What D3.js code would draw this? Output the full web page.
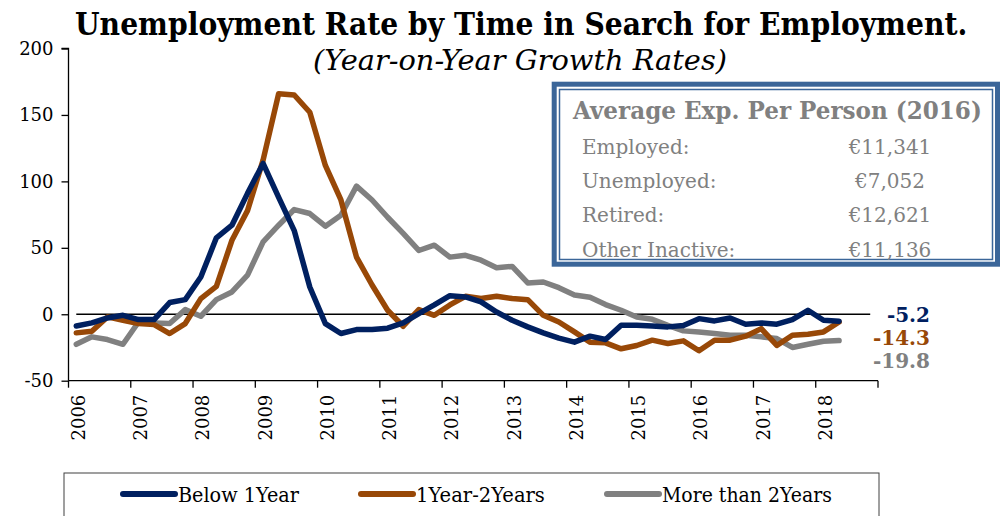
<!DOCTYPE html>
<html>
<head>
<meta charset="utf-8">
<script src="https://cdn.jsdelivr.net/npm/d3@7"></script>
<style>
  html, body { margin: 0; padding: 0; background: #fff; }
  svg { display: block; }
</style>
</head>
<body>
<svg id="chart" width="1002" height="516"></svg>
<script>
// ---------------- data ----------------
const years = [2006, 2007, 2008, 2009, 2010, 2011, 2012, 2013, 2014, 2015, 2016, 2017, 2018, 2019];
const quarters = ["Q1", "Q2", "Q3", "Q4"];
const yearLabels = ["2006", "2007", "2008", "2009", "2010", "2011", "2012", "2013", "2014", "2015", "2016", "2017", "2018"];
const yTicks = [-50, 0, 50, 100, 150, 200];

const seriesNames = ["Below 1Year", "1Year-2Years", "More than 2Years"];
const below1Year = [-8.8, -6.5, -2.8, -0.8, -4, -4, 8.8, 11, 28, 57.5, 67, 91, 113.5, 88, 63, 20.5,
  -7, -14.5, -11.5, -11.5, -10.5, -6.5, 0.5, 7, 14, 13, 9.3, 1.7, -4.5, -9.5, -14, -18,
  -21, -16.5, -19, -8.3, -8.3, -8.8, -9.5, -8.5, -3.3, -5, -2.8, -7.5, -6.5, -7.5, -4, 3, -4.5, -5.2];
const oneToTwoYears = [-14, -12.8, -2, -4.5, -7, -7.8, -14.5, -7, 11.8, 21, 55.7, 78, 116, 166, 165, 152,
  112, 86, 43, 22, 3, -9, 3.5, -0.8, 7, 13.5, 11.8, 13.5, 11.8, 11, -0.8, -5.8,
  -13.3, -21, -21.5, -26, -23.5, -19.5, -22, -20, -27.5, -19.5, -19.5, -16.5, -10.8, -23.5, -15.8, -15, -13.3, -5.8];
const moreThan2Years = [-22.6, -17, -19, -22.6, -5.8, -6.5, -7, 3.5, -1.5, 11, 16.8, 29.4, 54.5, 67, 78.8, 75.8,
  66.3, 74.5, 96.4, 86, 73, 60.8, 48, 52, 43, 44.4, 40.7, 35, 36, 23.6, 24.3, 20,
  14.5, 12.8, 7.3, 3, -2, -3.8, -8.3, -12.5, -13.3, -14.5, -15.8, -15.8, -17, -18.3, -25, -22.6, -20.3, -19.8];
const endLabels = ["-5.2", "-14.3", "-19.8"];
const seriesColors = ["#002060", "#984807", "#808080"];

const boxTitle = "Average Exp. Per Person (2016)";
const boxRows = ["Employed:", "Unemployed:", "Retired:", "Other Inactive:"];
const boxValues = ["€11,341", "€7,052", "€12,621", "€11,136"];

// ---------------- build ----------------
const categories = [];
years.slice(0, 13).forEach(y => quarters.forEach(q => categories.push(y + q)));

const svg = d3.select("#chart");
const serif = "'DejaVu Serif', serif";

const x = d3.scaleBand().domain(categories).range([68.5, 878]).paddingInner(0).paddingOuter(0);
const bw = x.bandwidth();
const xc = i => x(categories[i]) + bw / 2;
const xTick = c => (c === "2019Q1" ? x.range()[1] : x(c));
const y = d3.scaleLinear().domain([-50, 200]).range([380.7, 48.5]);

// helper: text horizontally scaled to a target width (keeps bbox honest)
function fitText(parent, tx, ty, width, txt, attrs) {
  const g = parent.append("g");
  const t = g.append("text").attr("x", 0).attr("y", 0).text(txt);
  Object.entries(attrs).forEach(([k, v]) => t.attr(k, v));
  const w = t.node().getComputedTextLength();
  const s = width / w;
  g.attr("transform", `translate(${tx},${ty}) scale(${s},1)`);
  return t;
}

// title
fitText(svg, 75, 35, 893, "Unemployment Rate by Time in Search for Employment.",
  { "font-family": serif, "font-weight": "bold", "font-size": 32, fill: "#000" });
fitText(svg, 313, 70, 414, "(Year-on-Year Growth Rates)",
  { "font-family": serif, "font-style": "italic", "font-size": 28, fill: "#000" });

// y axis
const yAxis = d3.axisLeft(y).tickValues(yTicks).tickSize(7).tickPadding(8).tickFormat(d => String(d));
const gy = svg.append("g").attr("transform", "translate(68.5,0)").call(yAxis);
gy.selectAll("text").attr("font-family", serif).attr("font-size", 18).attr("fill", "#000");
gy.selectAll("line").attr("stroke", "#000").attr("stroke-width", 1.3);
gy.select(".domain").attr("stroke", "#000").attr("stroke-width", 1.3).attr("d", `M-7,${y(200)}H0V${y(-50)}`);

// x axis (ticks at year boundaries)
const tickCats = years.map(yr => yr + "Q1");
const gx = svg.append("g").attr("transform", `translate(0,${y(-50)})`);
gx.append("path").attr("d", `M${x.range()[0]},0H${x.range()[1]}`).attr("stroke", "#000").attr("stroke-width", 1.3);
gx.selectAll("line.tick").data(tickCats).join("line").attr("class", "tick")
  .attr("x1", d => xTick(d)).attr("x2", d => xTick(d))
  .attr("y1", 0).attr("y2", 7).attr("stroke", "#000").attr("stroke-width", 1.3);
gx.selectAll("text.lab").data(yearLabels).join("text").attr("class", "lab")
  .attr("transform", d => `translate(${x(d + "Q1") + bw / 2 + 2},14) rotate(-90)`)
  .attr("text-anchor", "end").attr("dy", "0.36em")
  .attr("font-family", serif).attr("font-size", 18).attr("fill", "#000")
  .text(d => d);

// zero line
svg.append("line").attr("x1", xc(0)).attr("x2", xc(categories.length - 1))
  .attr("y1", y(0)).attr("y2", y(0)).attr("stroke", "#000").attr("stroke-width", 1.4);

// series lines
const allSeries = [below1Year, oneToTwoYears, moreThan2Years];
const line = d3.line().x((d, i) => xc(i)).y(d => y(d));
const drawOrder = [2, 1, 0];
drawOrder.forEach(k => {
  svg.append("path").datum(allSeries[k]).attr("d", line)
    .attr("fill", "none").attr("stroke", seriesColors[k]).attr("stroke-width", 5.5)
    .attr("stroke-linejoin", "round").attr("stroke-linecap", "round");
});

// end labels
const endY = [322, 345, 368];
endLabels.forEach((t, k) => {
  svg.append("text").attr("x", 930).attr("y", endY[k]).attr("text-anchor", "end")
    .attr("font-family", serif).attr("font-weight", "bold").attr("font-size", 20)
    .attr("fill", seriesColors[k]).text(t);
});

// info box
const boxBlue = "#3B6699";
svg.append("rect").attr("x", 554.2).attr("y", 84.2).attr("width", 443.3).attr("height", 180)
  .attr("fill", "#fff").attr("stroke", boxBlue).attr("stroke-width", 5);
svg.append("rect").attr("x", 559.5).attr("y", 89.5).attr("width", 433).attr("height", 170)
  .attr("fill", "none").attr("stroke", boxBlue).attr("stroke-width", 1.5);
fitText(svg, 573, 119, 409, boxTitle,
  { "font-family": serif, "font-weight": "bold", "font-size": 24, fill: "#808080" });
boxRows.forEach((r, k) => {
  const by = 154 + k * 34.2;
  svg.append("text").attr("x", 582).attr("y", by)
    .attr("font-family", serif).attr("font-size", 20).attr("fill", "#808080").text(r);
  svg.append("text").attr("x", 890).attr("y", by).attr("text-anchor", "middle")
    .attr("font-family", serif).attr("font-size", 20).attr("fill", "#808080").text(boxValues[k]);
});

// legend
svg.append("rect").attr("x", 64).attr("y", 473).attr("width", 815).attr("height", 60)
  .attr("fill", "#fff").attr("stroke", "#404040").attr("stroke-width", 1);
const legX = [123, 361, 607];
const legTextLen = [121, 129, 170];
seriesNames.forEach((n, k) => {
  svg.append("line").attr("x1", legX[k]).attr("x2", legX[k] + 52).attr("y1", 494).attr("y2", 494)
    .attr("stroke", seriesColors[k]).attr("stroke-width", 6).attr("stroke-linecap", "round");
  fitText(svg, legX[k] + 55, 502, legTextLen[k], n,
    { "font-family": serif, "font-size": 21, fill: "#000" });
});
</script>
</body>
</html>
